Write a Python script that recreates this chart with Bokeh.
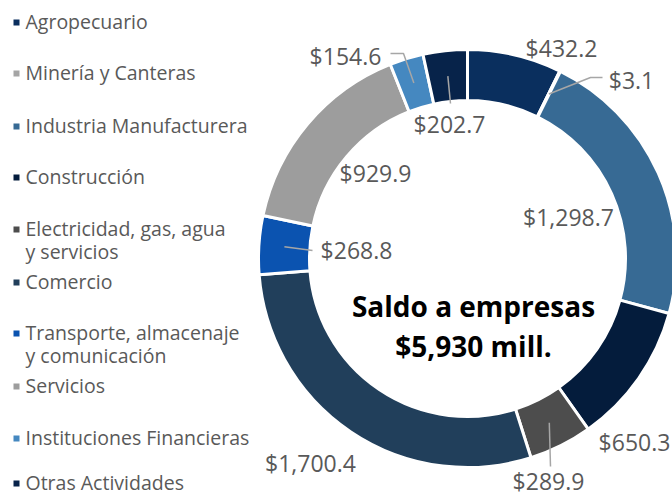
import math
from bokeh.plotting import figure
from bokeh.models import Range1d
from bokeh.embed import file_html
from bokeh.resources import INLINE
from bokeh.core.properties import value

# ---------------- data ----------------
categories = ["Agropecuario", "Minería y Canteras", "Industria Manufacturera",
              "Construcción", "Electricidad, gas, agua y servicios", "Comercio",
              "Transporte, almacenaje y comunicación", "Servicios",
              "Instituciones Financieras", "Otras Actividades"]
legend_lines = [["Agropecuario"], ["Minería y Canteras"], ["Industria Manufacturera"],
                ["Construcción"], ["Electricidad, gas, agua", "y servicios"], ["Comercio"],
                ["Transporte, almacenaje", "y comunicación"], ["Servicios"],
                ["Instituciones Financieras"], ["Otras Actividades"]]
values = [432.2, 3.1, 1298.7, 650.3, 289.9, 1700.4, 268.8, 929.9, 154.6, 202.7]
center_title = "Saldo a empresas"
center_total = "$5,930 mill."

# ---------------- style / layout ----------------
colors = ["#0A2F5E", "#A5A5A5", "#376A94", "#041C3C", "#4D4D4D",
          "#213F5B", "#0B53B0", "#9D9D9D", "#4588C0", "#07234A"]
W, H = 672, 497
CX, CY = 467, 258          # donut center (page px)
R_OUT, R_IN = 209, 158
FONT = "Open Sans"
TXT = "#595959"
LEAD = "#A6A6A6"

# label positions (page px) and leader end points
label_pos = [(561, 47), (631, 79), (568, 216), (634, 441), (548, 480),
             (310, 462), (356, 249), (375, 172), (345, 55), (449, 123)]
leader_end = {1: [(590, 77), (602, 77)], 4: [(550, 466)], 6: [(312, 250)],
              8: [(403, 53), (390, 53)], 9: [(450, 103)]}
legend_y = [21, 72, 125, 176, 228, 281, 332, 385, 437, 482]
legend_line_gap = 23


def py(y):  # page y -> data y
    return H - y


p = figure(width=W, height=H, output_backend="svg", toolbar_location=None,
           x_range=Range1d(0, W), y_range=Range1d(0, H), min_border=0)
p.axis.visible = False
p.grid.visible = False
p.outline_line_color = None
p.background_fill_color = "white"

total = sum(values)
cum = 0.0
starts, ends, mids = [], [], []
for v in values:
    a0 = cum / total * 2 * math.pi
    cum += v
    a1 = cum / total * 2 * math.pi
    # clockwise from 12 o'clock -> bokeh anticlockwise from +x
    starts.append(math.pi / 2 - a1)
    ends.append(math.pi / 2 - a0)
    mids.append((a0 + a1) / 2)

p.annular_wedge(x=[CX] * len(values), y=[py(CY)] * len(values),
                inner_radius=R_IN, outer_radius=R_OUT,
                start_angle=starts, end_angle=ends,
                fill_color=colors, line_color="white", line_width=3)

# leader lines
r_mid = (R_IN + R_OUT) / 2
for i, pts in leader_end.items():
    sx = CX + r_mid * math.sin(mids[i])
    sy = CY - r_mid * math.cos(mids[i])
    xs = [sx] + [q[0] for q in pts]
    ys = [py(sy)] + [py(q[1]) for q in pts]
    p.line(xs, ys, line_color=LEAD, line_width=1.5)

# value labels
labels = ["${:,.1f}".format(v) for v in values]
p.text(x=[q[0] for q in label_pos], y=[py(q[1]) for q in label_pos], text=labels,
       text_font=value(FONT), text_font_size="23px", text_color=TXT,
       text_align="center", text_baseline="middle")

# center text
p.text(x=[CX + 6, CX + 6], y=[py(305), py(345)], text=[center_title, center_total],
       text_font=value(FONT), text_font_style="bold", text_font_size="28px",
       text_color="black", text_align="center", text_baseline="middle")

# legend
sq_x, sq_y, sq_c = [], [], []
lt_x, lt_y, lt_t = [], [], []
for i, lines in enumerate(legend_lines):
    y0 = legend_y[i]
    sq_x.append(16); sq_y.append(py(y0 + 1)); sq_c.append(colors[i])
    for j, t in enumerate(lines):
        lt_x.append(25); lt_y.append(py(y0 + j * legend_line_gap)); lt_t.append(t)
p.rect(x=sq_x, y=sq_y, width=6, height=6, fill_color=sq_c, line_color=None)
p.text(x=lt_x, y=lt_y, text=lt_t, text_font=value(FONT), text_font_size="19.5px",
       text_color=TXT, text_align="left", text_baseline="middle")

open("out.html", "w").write(file_html(p, INLINE))
